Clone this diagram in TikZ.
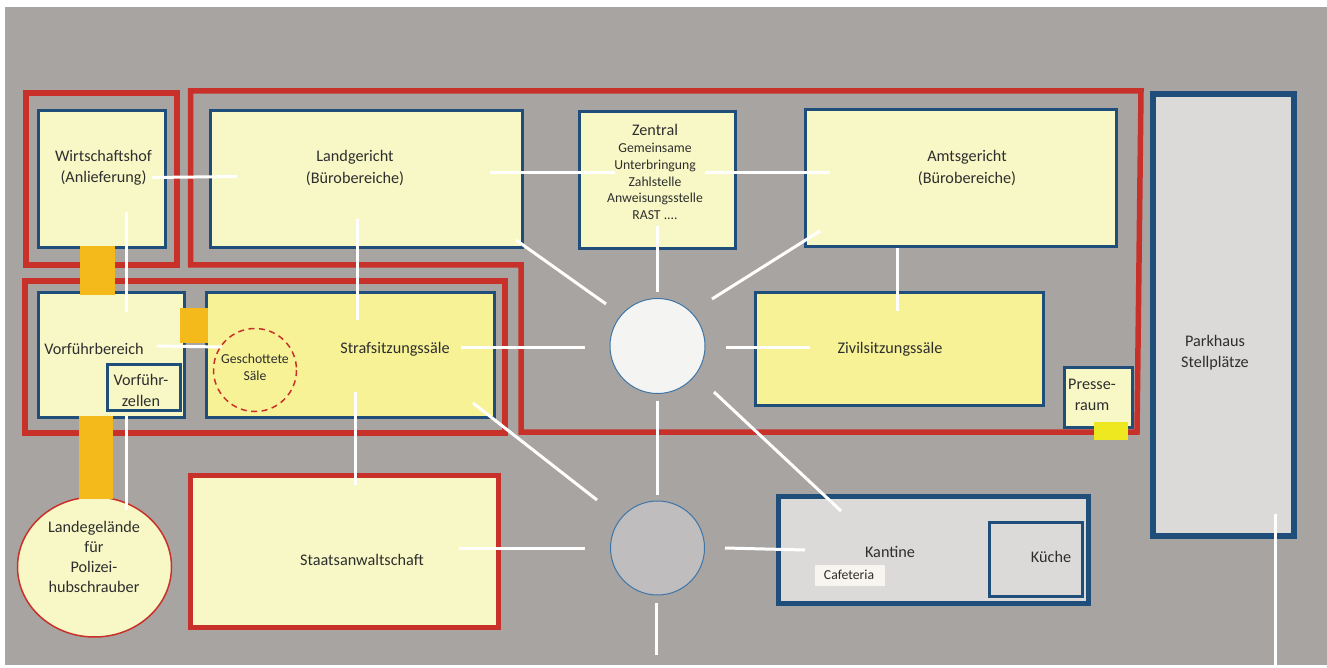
\documentclass[tikz,border=0pt]{standalone}
\usepackage{fontspec}
\setmainfont{Carlito}
\definecolor{floorgrey}{HTML}{A8A4A1}
\definecolor{wallred}{HTML}{C8312A}
\definecolor{roomblue}{HTML}{1F4E7A}
\definecolor{hubblue}{HTML}{3F75A6}
\definecolor{roomlight}{HTML}{F8F8C6}
\definecolor{roomdark}{HTML}{F7F295}
\definecolor{roomgrey}{HTML}{DBDAD9}
\definecolor{passage}{HTML}{F4BA1C}
\definecolor{pressyellow}{HTML}{EEE820}
\definecolor{cafewhite}{HTML}{F8F4EF}
\definecolor{hubwhite}{HTML}{F4F5F3}
\definecolor{hubgrey}{HTML}{BFBDBE}
\definecolor{labelgrey}{HTML}{2E2E2E}
\tikzset{
  redwall/.style={draw=wallred,line width=5.5pt},
  bluewall/.style={draw=roomblue,line width=3pt},
  way/.style={draw=white,line width=3pt},
  lab/.style={text=labelgrey,align=center,font=\fontsize{16.2}{21}\selectfont,inner sep=0pt},
  smalllab/.style={text=labelgrey,align=center,font=\fontsize{13.7}{16.6}\selectfont,inner sep=0pt}
}
\begin{document}
\begin{tikzpicture}[x=1pt,y=-1pt]
    \useasboundingbox (0,0) rectangle (1327,668);
    \fill[floorgrey] (5,7) rectangle (1327,665);

    \coordinate (W11) at (152,177.5);
    \coordinate (W12) at (237,176.5);
    \coordinate (W21) at (126,212);
    \coordinate (W22) at (126,312);
    \coordinate (W31) at (157,346);
    \coordinate (W32) at (222,347);
    \coordinate (W41) at (126,416);
    \coordinate (W42) at (126,510);
    \coordinate (W51) at (490,172.5);
    \coordinate (W52) at (615,172.5);
    \coordinate (W61) at (705,172.5);
    \coordinate (W62) at (830,172.5);
    \coordinate (W71) at (357,219);
    \coordinate (W72) at (357,320);
    \coordinate (W81) at (657.5,226);
    \coordinate (W82) at (657.5,292);
    \coordinate (W91) at (516,240);
    \coordinate (W92) at (606,304);
    \coordinate (Wa1) at (820,231);
    \coordinate (Wa2) at (712,299);
    \coordinate (Wb1) at (897,248);
    \coordinate (Wb2) at (897,311);
    \coordinate (Wc1) at (461,347);
    \coordinate (Wc2) at (585,347);
    \coordinate (Wd1) at (726,347);
    \coordinate (Wd2) at (810,347);
    \coordinate (We1) at (355,392);
    \coordinate (We2) at (355,485);
    \coordinate (Wf1) at (473,403);
    \coordinate (Wf2) at (597,500);
    \coordinate (Wg1) at (714,392);
    \coordinate (Wg2) at (841,511);
    \coordinate (Wh1) at (657,401);
    \coordinate (Wh2) at (657,495);
    \coordinate (Wi1) at (459,548);
    \coordinate (Wi2) at (585,548);
    \coordinate (Wj1) at (725,548);
    \coordinate (Wj2) at (805,550);
    \coordinate (Wk1) at (656,603);
    \coordinate (Wk2) at (656,655);
    \coordinate (Wl1) at (1275,514);
    \coordinate (Wl2) at (1275,665);

    \draw[redwall] (26,93) rectangle (177,265);
    \draw[redwall] (190.5,91) -- (1141,91) -- (1137,432) -- (521,432) -- (521,265) -- (190.5,265) -- cycle;
    \draw[redwall] (25,281) rectangle (505,433);
    \draw[redwall,fill=roomlight] (190.5,475.5) rectangle (498.5,627.5);

    \draw[bluewall,fill=roomlight] (38.5,111) rectangle (165.5,248);
    \draw[bluewall,fill=roomlight] (210.5,111) rectangle (522.5,248);
    \draw[bluewall,fill=roomlight] (579.5,111.5) rectangle (735.5,248.5);
    \draw[bluewall,fill=roomlight] (805,110) rectangle (1116.5,247);
    \draw[bluewall,fill=roomlight] (38.5,292.5) rectangle (184,417);
    \draw[bluewall,fill=roomdark] (206.5,292.5) rectangle (494,417);
    \draw[bluewall,fill=roomdark] (755.5,292.5) rectangle (1043,405);
    \draw[bluewall,fill=roomlight] (107.5,364) rectangle (180.5,410);
    \draw[bluewall,fill=roomlight] (1064.5,367.5) rectangle (1132.5,427);
    \draw[draw=roomblue,line width=6pt,fill=roomgrey] (1153,94.5) rectangle (1294,536);
    \draw[draw=roomblue,line width=5pt,fill=roomgrey] (778.5,496.5) rectangle (1088.5,603.5);
    \draw[bluewall,fill=roomgrey] (989.5,522.5) rectangle (1082.5,596.5);
    \fill[cafewhite] (815,565) rectangle (885,586);

    \draw[draw=wallred,line width=1.5pt,dashed,dash pattern=on 6pt off 4.5pt] (255,370) circle (41.5);
    \draw[draw=wallred,line width=1.5pt,fill=roomlight] (94.5,567) ellipse (77 and 70);
    \draw[draw=hubblue,line width=1pt,fill=hubwhite] (657.5,346) circle (47.5);
    \draw[draw=hubblue,line width=1pt,fill=hubgrey] (657.5,548) circle (47);

    \fill[passage] (80,246) rectangle (115,295);
    \fill[passage] (180,308) rectangle (208,343);
    \fill[passage] (79,416) rectangle (113,499);
    \fill[pressyellow] (1094,422) rectangle (1128,440);

    \node[lab] (wirt) at (103.5,168) {Wirtschaftshof\\(Anlieferung)};
    \node[lab] (land) at (355,168) {Landgericht\\(Bürobereiche)};
    \node[lab] (zent) at (655,130) {Zentral};
    \node[smalllab] (zentlist) at (655,181.5) {Gemeinsame\\Unterbringung\\Zahlstelle\\Anweisungsstelle\\RAST ....};
    \node[lab] (amts) at (967,168) {Amtsgericht\\(Bürobereiche)};
    \node[lab] (vorf) at (94,349) {Vorführbereich};
    \node[lab] (zell) at (141,390) {Vorführ-\\zellen};
    \node[smalllab] (gesch) at (255,367) {Geschottete\\Säle};
    \node[lab] (straf) at (395,349) {Strafsitzungssäle};
    \node[lab] (zivil) at (890,349) {Zivilsitzungssäle};
    \node[lab] (press) at (1092,395) {Presse-\\raum};
    \node[lab] (park) at (1215,353) {Parkhaus\\Stellplätze};
    \node[lab] (staat) at (362,560) {Staatsanwaltschaft};
    \node[lab] (kant) at (890,552) {Kantine};
    \node[smalllab] (cafe) at (849,575) {Cafeteria};
    \node[lab] (kuch) at (1051,557) {Küche};
    \node[lab,font=\fontsize{16.2}{19.8}\selectfont] (heli) at (94,557) {Landegelände\\für\\Polizei-\\hubschrauber};

    \draw[way] (W11) -- (W12);
    \draw[way] (W21) -- (W22);
    \draw[way] (W31) -- (W32);
    \draw[way] (W41) -- (W42);
    \draw[way] (W51) -- (W52);
    \draw[way] (W61) -- (W62);
    \draw[way] (W71) -- (W72);
    \draw[way] (W81) -- (W82);
    \draw[way] (W91) -- (W92);
    \draw[way] (Wa1) -- (Wa2);
    \draw[way] (Wb1) -- (Wb2);
    \draw[way] (Wc1) -- (Wc2);
    \draw[way] (Wd1) -- (Wd2);
    \draw[way] (We1) -- (We2);
    \draw[way] (Wf1) -- (Wf2);
    \draw[way] (Wg1) -- (Wg2);
    \draw[way] (Wh1) -- (Wh2);
    \draw[way] (Wi1) -- (Wi2);
    \draw[way] (Wj1) -- (Wj2);
    \draw[way] (Wk1) -- (Wk2);
    \draw[way] (Wl1) -- (Wl2);
\end{tikzpicture}
\end{document}
